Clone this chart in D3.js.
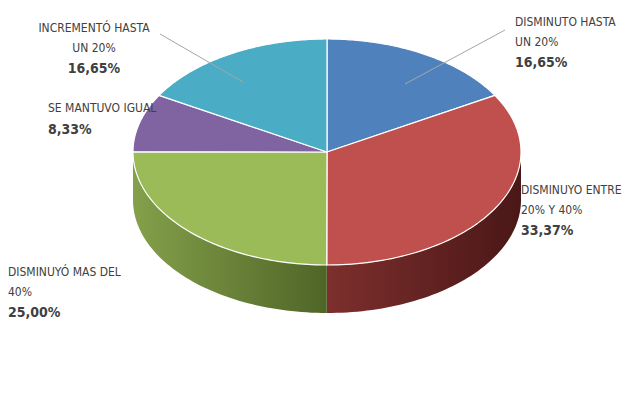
<!DOCTYPE html><html><head><meta charset="utf-8">
<script src="https://cdn.jsdelivr.net/npm/d3@7"></script>
<style>body{margin:0;background:#fff}</style></head><body>
<svg id="c" width="642" height="417"></svg>
<script>
const categories=["DISMINUTO HASTA UN 20%","DISMINUYO ENTRE 20% Y 40%","DISMINUYÓ MAS DEL 40%","SE MANTUVO IGUAL","INCREMENTÓ HASTA UN 20%"];
const values=[16.65,33.37,25.00,8.33,16.65];
const valueLabels=["16,65%","33,37%","25,00%","8,33%","16,65%"];
const colors=["#4f81bd","#c0504d","#9bbb59","#8064a2","#4bacc6"];
const sideDark=[["#3b6290","#2a4a70"],["#7d2f2d","#4a1717"],["#84a04a","#4f6527"],["#5f4a7a","#3f3052"],["#3a8ca3","#266a7c"]];
const svg=d3.select("#c");
const cx=327,cy=152,rx=194,ry=113,depth=48;
const arcs=d3.pie().sort(null).startAngle(0).endAngle(2*Math.PI)(values);
const P=(a,dy=0)=>[cx+rx*Math.sin(a),cy-ry*Math.cos(a)+dy];
const defs=svg.append("defs");
sideDark.forEach((c,i)=>{const g=defs.append("linearGradient").attr("id","g"+i);
g.append("stop").attr("offset","0").attr("stop-color",c[0]);g.append("stop").attr("offset","1").attr("stop-color",c[1]);});
arcs.forEach((d,i)=>{
  const a0=Math.max(d.startAngle,Math.PI/2),a1=Math.min(d.endAngle,3*Math.PI/2);
  if(a1<=a0)return;
  const n=60,top=[],bot=[];
  for(let k=0;k<=n;k++){const a=a0+(a1-a0)*k/n;top.push(P(a));bot.push(P(a,depth));}
  const pts=top.concat(bot.reverse());
  svg.append("path").attr("d","M"+pts.map(p=>p.join(",")).join("L")+"Z").attr("fill","url(#g"+i+")");
});
arcs.forEach((d,i)=>{
  const n=80,pts=[[cx,cy]];
  for(let k=0;k<=n;k++){pts.push(P(d.startAngle+(d.endAngle-d.startAngle)*k/n));}
  svg.append("path").attr("d","M"+pts.map(p=>p.join(",")).join("L")+"Z").attr("fill",colors[i]).attr("stroke","#fff").attr("stroke-width",1.2).attr("stroke-linejoin","round");
});
svg.append("polyline").attr("points","405,84 505,30").attr("stroke","#a6a6a6").attr("fill","none");
svg.append("polyline").attr("points","243,82 160,34").attr("stroke","#a6a6a6").attr("fill","none");
const F="'DejaVu Sans Condensed','Liberation Sans Narrow',Arial,sans-serif";
const labels=[
 {x:515,a:"start",lines:["DISMINUTO HASTA","UN 20%"],y:26},
 {x:521,a:"start",lines:["DISMINUYO ENTRE","20% Y 40%"],y:194},
 {x:8,a:"start",lines:["DISMINUYÓ MAS DEL","40%"],y:276},
 {x:48,a:"start",lines:["SE MANTUVO IGUAL"],y:112},
 {x:94,a:"middle",lines:["INCREMENTÓ HASTA","UN 20%"],y:32}
];
labels.forEach((l,i)=>{
  const t=svg.append("text").attr("x",l.x).attr("y",l.y).attr("text-anchor",l.a).attr("font-family",F).attr("font-stretch","condensed").attr("fill","#404040");
  l.lines.forEach((s,k)=>t.append("tspan").attr("x",l.x).attr("dy",k?20:0).attr("font-size",12).text(s));
  t.append("tspan").attr("x",l.x).attr("dy",l.lines.length>1?21:22).attr("font-size",14).attr("font-weight","bold").text(valueLabels[i]);
});
</script></body></html>
